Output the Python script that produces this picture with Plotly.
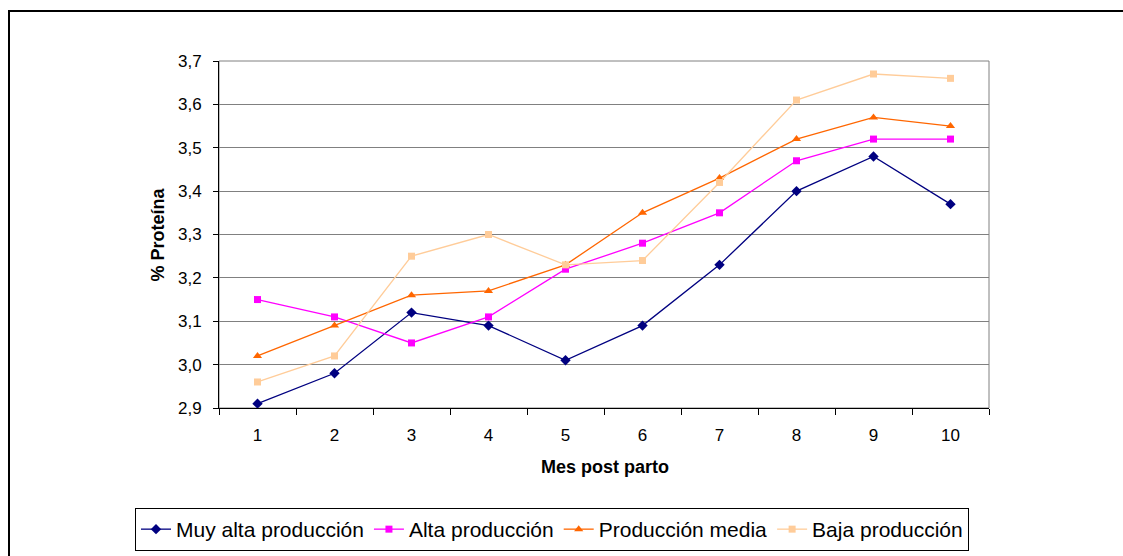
import plotly.graph_objects as go

# Month after calving
meses = ["1", "2", "3", "4", "5", "6", "7", "8", "9", "10"]

# Protein % by production level
muy_alta = [2.91, 2.98, 3.12, 3.09, 3.01, 3.09, 3.23, 3.40, 3.48, 3.37]
alta = [3.15, 3.11, 3.05, 3.11, 3.22, 3.28, 3.35, 3.47, 3.52, 3.52]
media = [3.02, 3.09, 3.16, 3.17, 3.23, 3.35, 3.43, 3.52, 3.57, 3.55]
baja = [2.96, 3.02, 3.25, 3.30, 3.23, 3.24, 3.42, 3.61, 3.67, 3.66]

y_ticks = [2.9, 3.0, 3.1, 3.2, 3.3, 3.4, 3.5, 3.6, 3.7]
y_tick_text = ["2,9", "3,0", "3,1", "3,2", "3,3", "3,4", "3,5", "3,6", "3,7"]

series = [
    ("Muy alta producción", muy_alta, "#000080", "diamond", 8),
    ("Alta producción", alta, "#FF00FF", "square", 7),
    ("Producción media", media, "#FF6600", "triangle-up", 8),
    ("Baja producción", baja, "#FFCC99", "square", 7),
]

fig = go.Figure()
for name, vals, color, sym, size in series:
    fig.add_trace(go.Scatter(
        x=meses, y=vals, name=name, mode="lines+markers",
        line=dict(color=color, width=1.3),
        marker=dict(symbol=sym, size=size, color=color),
        cliponaxis=False,
    ))

L, R, T, B = 219, 989, 61, 408
W, H = 1123, 556
pw, ph = R - L, B - T

fig.update_layout(
    width=W, height=H,
    margin=dict(l=L, r=W - R, t=T, b=H - B, pad=0, autoexpand=False),
    paper_bgcolor="white", plot_bgcolor="white",
    font=dict(family="Liberation Sans, Arial, sans-serif", size=17, color="black"),
    showlegend=True,
    legend=dict(
        orientation="h", x=(135 - L) / pw, xanchor="left",
        y=(B - 508) / ph, yanchor="top",
        bordercolor="black", borderwidth=1, bgcolor="white",
        font=dict(size=21), itemwidth=30, tracegroupgap=0,
    ),
)

fig.update_xaxes(
    type="category", range=[-0.5, 9.5], tickson="boundaries",
    ticks="outside", ticklen=6, tickcolor="black", tickwidth=1,
    showline=True, linecolor="black", linewidth=1,
    showgrid=False, zeroline=False, fixedrange=True,
    tickfont=dict(size=17), ticklabelstandoff=12,
)
fig.update_yaxes(
    range=[2.9, 3.7], tickvals=y_ticks, ticktext=y_tick_text,
    ticks="outside", ticklen=5, tickcolor="black", tickwidth=1,
    showline=True, linecolor="black", linewidth=1,
    showgrid=True, gridcolor="#808080", gridwidth=1,
    zeroline=False, fixedrange=True, tickfont=dict(size=17),
    ticklabelstandoff=8,
)

# Plot area outline (right/top in gray)
fig.add_shape(type="rect", xref="paper", yref="paper", x0=0, x1=1, y0=0, y1=1,
              line=dict(color="#808080", width=1), layer="below")

# Chart area border
fig.add_shape(type="rect", xref="paper", yref="paper",
              x0=(9 - L) / pw, x1=(1140 - L) / pw,
              y0=(B - 570) / ph, y1=(B - 11) / ph,
              line=dict(color="black", width=2))

# Axis titles
fig.add_annotation(text="<b>% Proteína</b>", xref="paper", yref="paper",
                   x=(157 - L) / pw, y=0.5, textangle=-90, showarrow=False,
                   font=dict(size=18), xanchor="center", yanchor="middle")
fig.add_annotation(text="<b>Mes post parto</b>", xref="paper", yref="paper",
                   x=(605 - L) / pw, y=(B - 467) / ph, showarrow=False,
                   font=dict(size=18), xanchor="center", yanchor="middle")

fig.write_html("out.html")
